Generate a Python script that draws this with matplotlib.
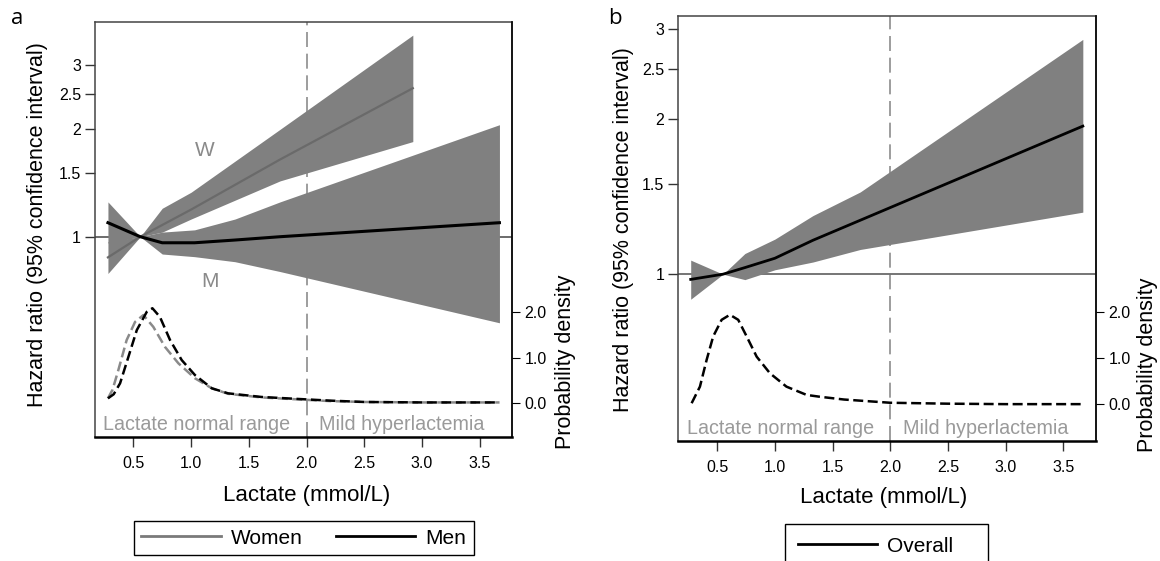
import matplotlib.pyplot as plt
from matplotlib.lines import Line2D
from matplotlib.ticker import FixedLocator, FixedFormatter, NullLocator

plt.rcParams['font.family'] = ['Liberation Sans', 'DejaVu Sans']

# ---- panel a: women / men hazard ratios ----
women_x = [0.28, 0.56, 0.75, 1.0, 1.77, 2.92]
women_hr = [0.876, 1.0, 1.078, 1.19, 1.64, 2.59]
women_lo = [0.79, 1.0, 1.03, 1.12, 1.43, 1.84]
women_hi = [0.97, 1.0, 1.20, 1.33, 1.99, 3.64]

men_x = [0.28, 0.56, 0.75, 1.03, 1.38, 1.77, 3.67]
men_hr = [1.094, 1.0, 0.962, 0.962, 0.979, 1.0, 1.094]
men_lo = [0.96, 1.0, 0.895, 0.88, 0.852, 0.80, 0.576]
men_hi = [1.25, 1.0, 1.03, 1.045, 1.12, 1.25, 2.05]

# density of lactate (panel a)
dens_men_x = [0.28, 0.33, 0.385, 0.457, 0.53, 0.616, 0.665, 0.73, 0.818, 0.919, 1.034,
              1.18, 1.32, 1.61, 1.9, 2.2, 2.5, 3.0, 3.67]
dens_men = [0.11, 0.2, 0.44, 1.02, 1.61, 2.01, 2.09, 1.9, 1.39, 0.95, 0.62,
            0.33, 0.22, 0.14, 0.10, 0.06, 0.03, 0.02, 0.02]
dens_women_x = [0.28, 0.32, 0.37, 0.442, 0.515, 0.587, 0.673, 0.774, 0.89, 1.034,
                1.18, 1.32, 1.61, 1.9, 2.2, 2.5, 3.0, 3.67]
dens_women = [0.11, 0.3, 0.73, 1.39, 1.79, 1.94, 1.68, 1.24, 0.88, 0.55,
              0.33, 0.21, 0.13, 0.09, 0.05, 0.03, 0.02, 0.02]

# ---- panel b: overall ----
all_x = [0.27, 0.55, 0.74, 1.0, 1.33, 1.74, 3.67]
all_hr = [0.977, 1.0, 1.03, 1.074, 1.164, 1.273, 1.94]
all_lo = [0.894, 1.0, 0.976, 1.02, 1.056, 1.117, 1.32]
all_hi = [1.065, 1.0, 1.097, 1.17, 1.30, 1.445, 2.86]

dens_all_x = [0.278, 0.35, 0.408, 0.465, 0.538, 0.61, 0.682, 0.755, 0.842, 0.957,
              1.10, 1.275, 1.39, 1.6, 2.0, 2.5, 3.0, 3.67]
dens_all = [0.02, 0.38, 0.96, 1.47, 1.83, 1.94, 1.83, 1.47, 1.03, 0.67,
            0.38, 0.20, 0.16, 0.10, 0.03, 0.01, 0.0, 0.0]

hr_ticks = [1, 1.5, 2, 2.5, 3]
hr_labels = ['1', '1.5', '2', '2.5', '3']
x_ticks = [0.5, 1.0, 1.5, 2.0, 2.5, 3.0, 3.5]
dens_ticks = [0.0, 1.0, 2.0]

BAND = '#808080'
CUT = 2.0

fig = plt.figure(figsize=(11.6, 5.61), dpi=100)
ax_a = fig.add_axes([0.0819, 0.2210, 0.3595, 0.7398])
ax_b = fig.add_axes([0.5847, 0.2139, 0.3601, 0.7581])


def setup(ax, xlim, ylim, dlim):
    ax.set_yscale('log')
    ax.set_xlim(*xlim)
    ax.set_ylim(*ylim)
    ax.yaxis.set_major_locator(FixedLocator(hr_ticks))
    ax.yaxis.set_major_formatter(FixedFormatter(hr_labels))
    ax.yaxis.set_minor_locator(NullLocator())
    ax.set_xticks(x_ticks)
    ax.set_xticklabels([f'{t:.1f}' for t in x_ticks])
    ax.tick_params(axis='both', direction='out', length=7, width=1, labelsize=11.5,
                   colors='#333333', labelcolor='black')
    ax.tick_params(axis='x', pad=7)
    ax.tick_params(axis='y', pad=3)
    for s in ax.spines.values():
        s.set_color('#444444')
        s.set_linewidth(1.1)
    ax.spines['bottom'].set_color('black')
    ax.spines['bottom'].set_linewidth(1.8)
    ax.axvline(CUT, color='#8c8c8c', lw=1.2, ls=(0, (9, 4)), zorder=1)
    ax2 = ax.twinx()
    ax2.set_ylim(*dlim)
    ax2.set_yticks(dens_ticks)
    ax2.set_yticklabels([f'{t:.1f}' for t in dens_ticks])
    ax2.tick_params(axis='y', direction='out', length=6, labelsize=11.5, pad=3)
    ax2.spines['right'].set_color('black')
    ax2.spines['right'].set_linewidth(1.1)
    for s in ['top', 'left', 'bottom']:
        ax2.spines[s].set_visible(False)
    ax.text(0.24, 0.03, 'Lactate normal range', transform=ax.get_xaxis_transform(),
            color='#9a9a9a', fontsize=14.2, ha='left', va='center')
    ax.text(CUT + 0.11, 0.03, 'Mild hyperlactemia', transform=ax.get_xaxis_transform(),
            color='#9a9a9a', fontsize=14.2, ha='left', va='center')
    return ax2


# panel a
da = setup(ax_a, (0.168, 3.779), (0.277, 3.96), (-0.74, 8.38))
ax_a.axhline(1, color='#444444', lw=1.1, zorder=1)
ax_a.fill_between(women_x, women_lo, women_hi, color=BAND, lw=0, zorder=2)
ax_a.fill_between(men_x, men_lo, men_hi, color=BAND, lw=0, zorder=2)
ax_a.plot(women_x, women_hr, color='#6a6a6a', lw=1.6, zorder=3)
ax_a.plot(men_x, men_hr, color='black', lw=2.2, zorder=3)
ax_a.text(1.12, 1.74, 'W', color='#8a8a8a', fontsize=15, ha='center', va='center')
ax_a.text(1.16, 0.75, 'M', color='#8a8a8a', fontsize=15, ha='center', va='center')
da.plot(dens_women_x, dens_women, color='#8a8a8a', lw=1.8, ls=(0, (4, 1.8)))
da.plot(dens_men_x, dens_men, color='black', lw=1.8, ls=(0, (4, 1.8)))

# panel b
db = setup(ax_b, (0.162, 3.784), (0.474, 3.18), (-0.80, 8.43))
ax_b.axhline(1, color='#6a6a6a', lw=1.3, zorder=1)
ax_b.fill_between(all_x, all_lo, all_hi, color=BAND, lw=0, zorder=2)
ax_b.plot(all_x, all_hr, color='black', lw=2.0, zorder=3)
db.plot(dens_all_x, dens_all, color='black', lw=1.8, ls=(0, (4, 1.8)))

# axis labels
for cx, cy in [(38, 225), (624, 230)]:
    fig.text(cx / 1160, 1 - cy / 561, 'Hazard ratio (95% confidence interval)',
             rotation=90, ha='center', va='center', fontsize=15.5)
for cx, cy in [(565, 362), (1148, 365)]:
    fig.text(cx / 1160, 1 - cy / 561, 'Probability density',
             rotation=90, ha='center', va='center', fontsize=15.5)
for cx, cy in [(307, 496), (884, 498)]:
    fig.text(cx / 1160, 1 - cy / 561, 'Lactate (mmol/L)',
             ha='center', va='center', fontsize=16)

fig.text(17 / 1160, 1 - 18 / 561, 'a', fontsize=16, ha='center', va='center',
         family=['Open Sans', 'DejaVu Sans'])
fig.text(615 / 1160, 1 - 18 / 561, 'b', fontsize=16, ha='center', va='center',
         family=['Open Sans', 'DejaVu Sans'])

# legends
h_w = Line2D([], [], color='#7a7a7a', lw=2)
h_m = Line2D([], [], color='black', lw=2)
leg_a = fig.legend([h_w, h_m], ['Women', 'Men'], ncol=2, loc='center',
                   bbox_to_anchor=(304 / 1160, 1 - 538 / 561), fontsize=15,
                   handlelength=3.8, handletextpad=0.5, columnspacing=1.6,
                   frameon=True, fancybox=False, edgecolor='black', framealpha=1,
                   borderpad=0.35)
leg_a.get_frame().set_linewidth(1.0)
leg_b = fig.legend([h_m], ['Overall'], loc='upper left', mode='expand',
                   bbox_to_anchor=(785 / 1160, 1 - 569 / 561, 203 / 1160, 45 / 561),
                   fontsize=15, handlelength=3.8, handletextpad=0.5, borderaxespad=0,
                   frameon=True, fancybox=False, edgecolor='black', framealpha=1,
                   borderpad=0.6)
leg_b.get_frame().set_linewidth(1.0)

fig.savefig('out.png', dpi=100)
